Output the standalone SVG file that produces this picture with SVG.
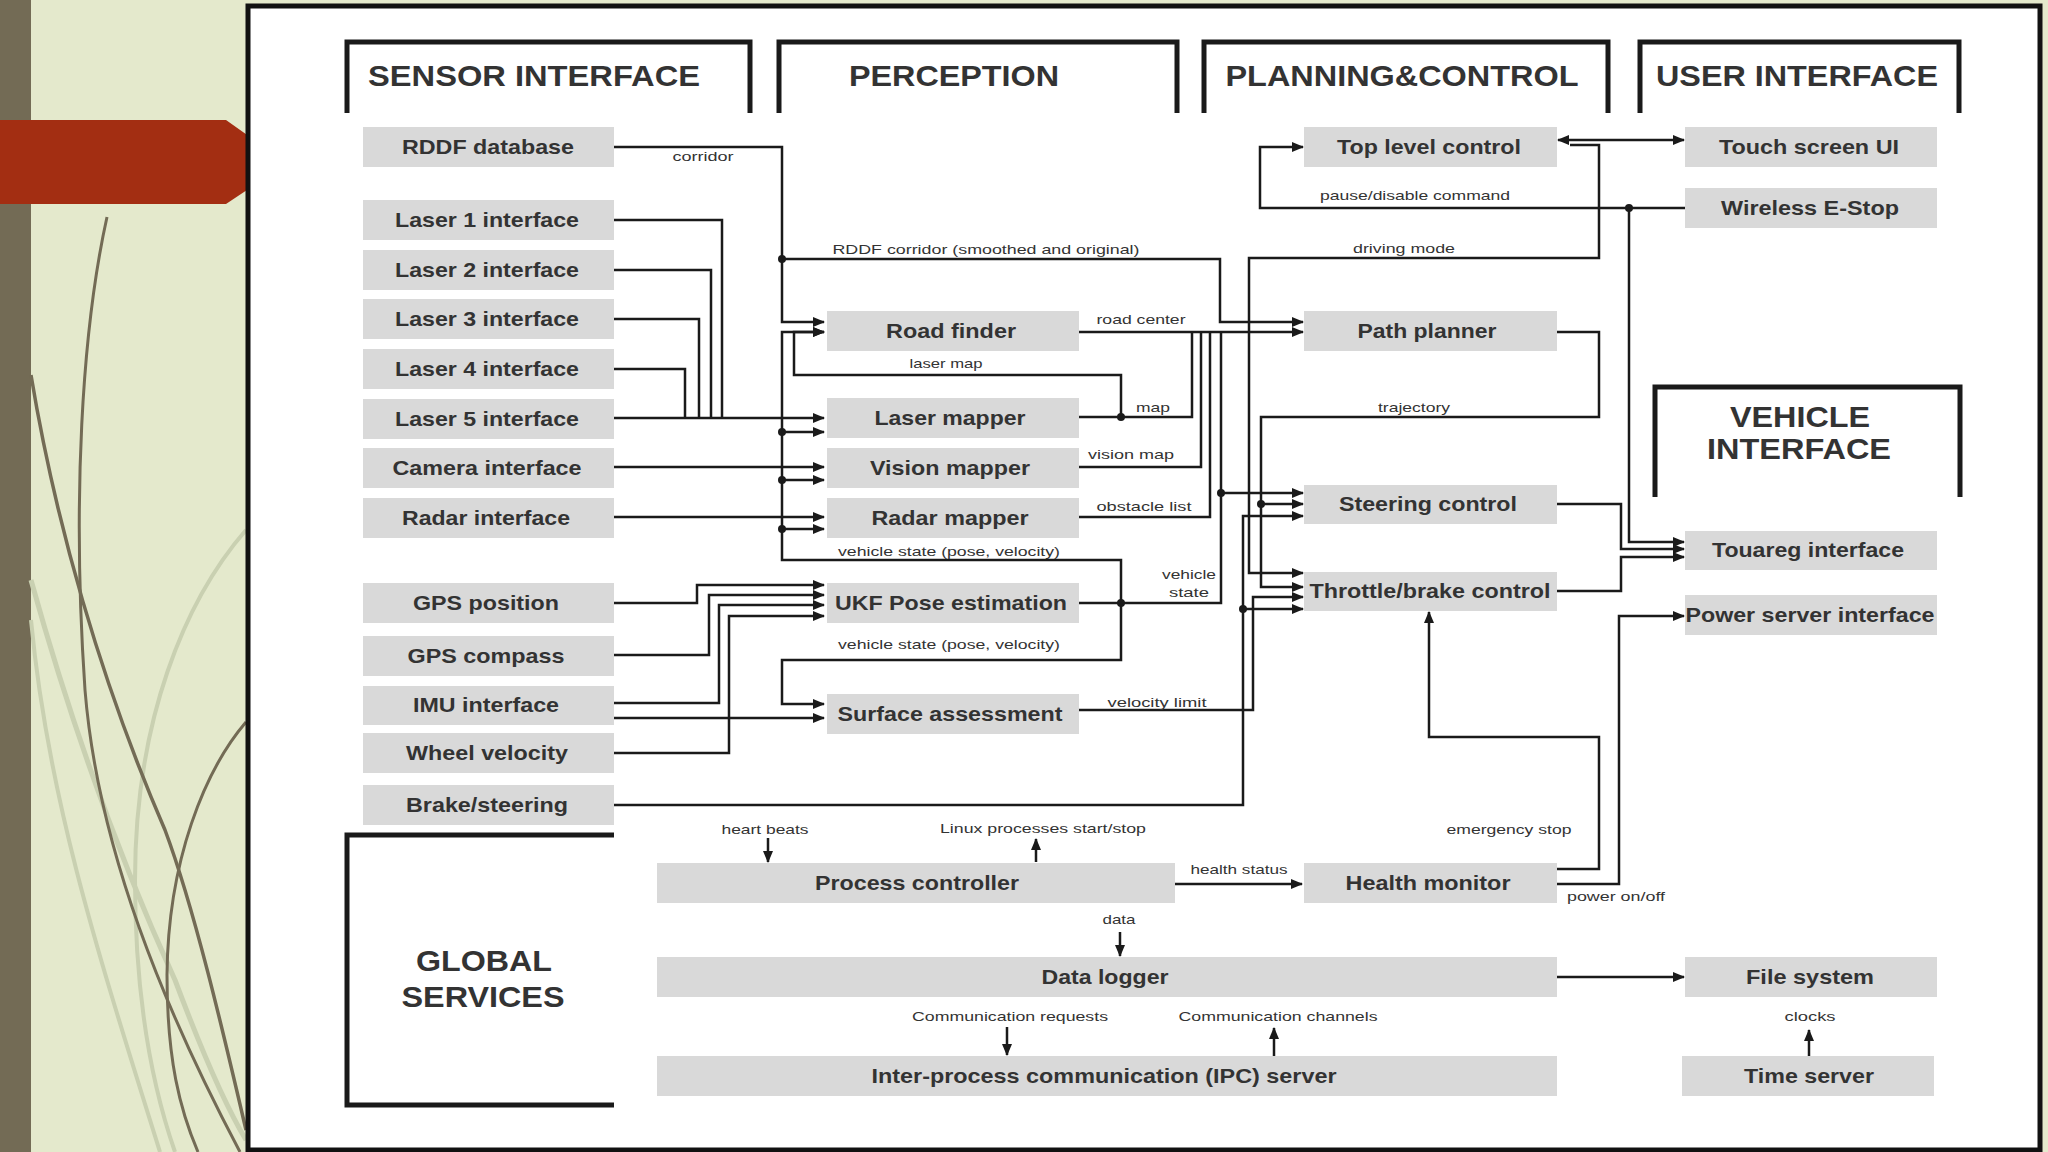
<svg xmlns="http://www.w3.org/2000/svg" width="2048" height="1152" viewBox="0 0 2048 1152">
<defs>
<marker id="arr" markerUnits="userSpaceOnUse" markerWidth="12" markerHeight="10" refX="11" refY="5" orient="auto">
<path d="M0,0 L12,5 L0,10 z" fill="#1a1a1a"/>
</marker>
<marker id="arrs" markerUnits="userSpaceOnUse" markerWidth="12" markerHeight="10" refX="1" refY="5" orient="auto">
<path d="M12,0 L0,5 L12,10 z" fill="#1a1a1a"/>
</marker>
<style>
.bg{fill:#e4e9cc}
.node rect{fill:#d9d9d9}
.nt{font-family:"Liberation Sans",Arial,sans-serif;font-weight:bold;font-size:21px;fill:#333;text-anchor:middle}
.hd{font-family:"Liberation Sans",Arial,sans-serif;font-weight:bold;font-size:30px;fill:#333;text-anchor:middle}
.lb{font-family:"Liberation Sans",Arial,sans-serif;font-size:13px;fill:#333;text-anchor:middle}
.br{fill:none;stroke:#1a1a1a;stroke-width:5}
.c path{fill:none;stroke:#1a1a1a;stroke-width:2.5}
.c .a{marker-end:url(#arr)}
.c circle{fill:#1a1a1a}
.deco{fill:none;stroke:#736b55}
.faint{fill:none;stroke:#c9d0b1}
</style>
</defs>
<rect class="bg" x="0" y="0" width="2048" height="1152"/>
<rect x="0" y="0" width="31" height="1152" fill="#736b55"/>
<g id="decoration">
<path class="faint" stroke-width="4" d="M246,530 C185,600 135,720 135,880 C135,990 150,1080 175,1152"/>
<path class="faint" stroke-width="5" d="M31,580 C70,720 120,860 175,980 C205,1060 228,1110 246,1140"/>
<path class="faint" stroke-width="4" d="M31,620 C48,800 100,960 160,1152"/>
<path class="deco" stroke-width="3" d="M107,217 C82,330 72,500 85,690 C98,850 165,1010 240,1152"/>
<path class="deco" stroke-width="3.5" d="M31,375 C55,520 100,680 165,830 C195,910 225,1040 246,1130"/>
<path class="deco" stroke-width="3" d="M246,722 C205,770 168,860 167,975 C167,1060 180,1110 198,1152"/>
</g>
<polygon points="0,120 226,120 250,137 250,188 226,204 0,204" fill="#a32e12"/>
<rect x="248" y="6" width="1792" height="1144" fill="#ffffff" stroke="#111" stroke-width="5"/>

<g id="sections">
<path class="br" d="M347,113 V42 H750 V113"/>
<path class="br" d="M779,113 V42 H1177 V113"/>
<path class="br" d="M1204,113 V42 H1608 V113"/>
<path class="br" d="M1640,113 V42 H1959 V113"/>
<path class="br" d="M1655,497 V387 H1960 V497"/>
<path class="br" d="M614,835 H347 V1105 H614"/>
<text class="hd" x="534" y="86" textLength="332" lengthAdjust="spacingAndGlyphs">SENSOR INTERFACE</text>
<text class="hd" x="954" y="86" textLength="210" lengthAdjust="spacingAndGlyphs">PERCEPTION</text>
<text class="hd" x="1402" y="86" textLength="353" lengthAdjust="spacingAndGlyphs">PLANNING&amp;CONTROL</text>
<text class="hd" x="1797" y="86" textLength="282" lengthAdjust="spacingAndGlyphs">USER INTERFACE</text>
<text class="hd" x="1800" y="427" textLength="140" lengthAdjust="spacingAndGlyphs">VEHICLE</text>
<text class="hd" x="1799" y="459" textLength="184" lengthAdjust="spacingAndGlyphs">INTERFACE</text>
<text class="hd" x="484" y="971" textLength="136" lengthAdjust="spacingAndGlyphs">GLOBAL</text>
<text class="hd" x="483" y="1007" textLength="163" lengthAdjust="spacingAndGlyphs">SERVICES</text>
</g>

<g id="connectors" class="c">
<path d="M614,147 H782 V322 H824" class="a"/>
<circle cx="782" cy="259" r="4"/>
<path d="M782,259 H1220 V322 H1303" class="a"/>
<path d="M614,220 H722 V418"/>
<path d="M614,270 H711 V418"/>
<path d="M614,319 H699 V418"/>
<path d="M614,369 H685 V418"/>
<path d="M614,418 H824" class="a" stroke-width="3.5"/>
<path d="M614,467 H824" class="a"/>
<path d="M614,517 H824" class="a"/>
<path d="M1121,603 V560 H782 V332 H824" class="a"/>
<circle cx="782" cy="432" r="4"/>
<circle cx="782" cy="480" r="4"/>
<circle cx="782" cy="529" r="4"/>
<path d="M782,432 H824" class="a"/>
<path d="M782,480 H824" class="a"/>
<path d="M782,529 H824" class="a"/>
<path d="M614,603 H697 V585 H824" class="a"/>
<path d="M614,655 H709 V595 H824" class="a"/>
<path d="M614,703 H719 V605 H824" class="a"/>
<path d="M614,753 H729 V616 H824" class="a"/>
<path d="M614,718 H824" class="a"/>
<path d="M1121,603 V660 H782 V704 H824" class="a"/>
<path d="M1079,417 H1192 V332"/>
<circle cx="1121" cy="417" r="4"/>
<path d="M1121,417 V375 H794 V332 H824" class="a"/>
<path d="M1079,467 H1201 V332"/>
<path d="M1079,517 H1210 V332"/>
<path d="M1079,332 H1303" class="a"/>
<path d="M1079,603 H1221 V332" stroke-width="3"/>
<circle cx="1121" cy="603" r="4"/>
<circle cx="1221" cy="493" r="4"/>
<path d="M1221,493 H1303" class="a"/>
<path d="M1557,332 H1599 V417 H1261 V587 H1303" class="a"/>
<circle cx="1261" cy="504" r="4"/>
<path d="M1261,504 H1303" class="a"/>
<path d="M1570,145 H1599 V258 H1249 V573 H1303" class="a"/>
<path d="M614,805 H1243 V516 H1303" class="a"/>
<circle cx="1243" cy="609" r="4"/>
<path d="M1243,609 H1303" class="a"/>
<path d="M1079,710 H1253 V597 H1303" class="a"/>
<path d="M1558,140 H1684" class="a" style="marker-start:url(#arrs)"/>
<path d="M1685,208 H1260 V147 H1303" class="a"/>
<circle cx="1629" cy="208" r="4"/>
<path d="M1629,208 V542 H1684" class="a"/>
<path d="M1557,504 H1621 V549 H1684" class="a"/>
<path d="M1557,591 H1621 V557 H1684" class="a"/>
<path d="M1175,884 H1302" class="a"/>
<path d="M1557,869 H1599 V737 H1429 V612" class="a"/>
<path d="M1557,884 H1619 V616 H1684" class="a"/>
<path d="M768,838 V862" class="a"/>
<path d="M1036,862 V839" class="a"/>
<path d="M1120,932 V956" class="a"/>
<path d="M1557,977 H1684" class="a"/>
<path d="M1007,1027 V1055" class="a"/>
<path d="M1274,1056 V1028" class="a"/>
<path d="M1809,1056 V1030" class="a"/>
</g>

<g id="labels">
<text class="lb" x="703" y="161" textLength="61" lengthAdjust="spacingAndGlyphs">corridor</text>
<text class="lb" x="986" y="254" textLength="307" lengthAdjust="spacingAndGlyphs">RDDF corridor (smoothed and original)</text>
<text class="lb" x="1415" y="200" textLength="190" lengthAdjust="spacingAndGlyphs">pause/disable command</text>
<text class="lb" x="1404" y="253" textLength="102" lengthAdjust="spacingAndGlyphs">driving mode</text>
<text class="lb" x="1141" y="324" textLength="89" lengthAdjust="spacingAndGlyphs">road center</text>
<text class="lb" x="946" y="368" textLength="73" lengthAdjust="spacingAndGlyphs">laser map</text>
<text class="lb" x="1153" y="412" textLength="34" lengthAdjust="spacingAndGlyphs">map</text>
<text class="lb" x="1414" y="412" textLength="72" lengthAdjust="spacingAndGlyphs">trajectory</text>
<text class="lb" x="1131" y="459" textLength="86" lengthAdjust="spacingAndGlyphs">vision map</text>
<text class="lb" x="1144" y="511" textLength="95" lengthAdjust="spacingAndGlyphs">obstacle list</text>
<text class="lb" x="949" y="556" textLength="222" lengthAdjust="spacingAndGlyphs">vehicle state (pose, velocity)</text>
<text class="lb" x="1189" y="579" textLength="54" lengthAdjust="spacingAndGlyphs">vehicle</text>
<text class="lb" x="1189" y="597" textLength="40" lengthAdjust="spacingAndGlyphs">state</text>
<text class="lb" x="949" y="649" textLength="222" lengthAdjust="spacingAndGlyphs">vehicle state (pose, velocity)</text>
<text class="lb" x="1157" y="707" textLength="99" lengthAdjust="spacingAndGlyphs">velocity limit</text>
<text class="lb" x="765" y="834" textLength="87" lengthAdjust="spacingAndGlyphs">heart beats</text>
<text class="lb" x="1043" y="833" textLength="206" lengthAdjust="spacingAndGlyphs">Linux processes start/stop</text>
<text class="lb" x="1509" y="834" textLength="125" lengthAdjust="spacingAndGlyphs">emergency stop</text>
<text class="lb" x="1239" y="874" textLength="97" lengthAdjust="spacingAndGlyphs">health status</text>
<text class="lb" x="1616" y="901" textLength="98" lengthAdjust="spacingAndGlyphs">power on/off</text>
<text class="lb" x="1119" y="924" textLength="33" lengthAdjust="spacingAndGlyphs">data</text>
<text class="lb" x="1010" y="1021" textLength="196" lengthAdjust="spacingAndGlyphs">Communication requests</text>
<text class="lb" x="1278" y="1021" textLength="199" lengthAdjust="spacingAndGlyphs">Communication channels</text>
<text class="lb" x="1810" y="1021" textLength="51" lengthAdjust="spacingAndGlyphs">clocks</text>
</g>

<g id="n-rddf" class="node"><rect x="363" y="127" width="251" height="40"/><text class="nt" x="488" y="154" textLength="172" lengthAdjust="spacingAndGlyphs">RDDF database</text></g>
<g id="n-laser1" class="node"><rect x="363" y="200" width="251" height="40"/><text class="nt" x="487" y="227" textLength="184" lengthAdjust="spacingAndGlyphs">Laser 1 interface</text></g>
<g id="n-laser2" class="node"><rect x="363" y="250" width="251" height="40"/><text class="nt" x="487" y="277" textLength="184" lengthAdjust="spacingAndGlyphs">Laser 2 interface</text></g>
<g id="n-laser3" class="node"><rect x="363" y="299" width="251" height="40"/><text class="nt" x="487" y="326" textLength="184" lengthAdjust="spacingAndGlyphs">Laser 3 interface</text></g>
<g id="n-laser4" class="node"><rect x="363" y="349" width="251" height="40"/><text class="nt" x="487" y="376" textLength="184" lengthAdjust="spacingAndGlyphs">Laser 4 interface</text></g>
<g id="n-laser5" class="node"><rect x="363" y="399" width="251" height="40"/><text class="nt" x="487" y="426" textLength="184" lengthAdjust="spacingAndGlyphs">Laser 5 interface</text></g>
<g id="n-camera" class="node"><rect x="363" y="448" width="251" height="40"/><text class="nt" x="487" y="475" textLength="189" lengthAdjust="spacingAndGlyphs">Camera interface</text></g>
<g id="n-radar" class="node"><rect x="363" y="498" width="251" height="40"/><text class="nt" x="486" y="525" textLength="168" lengthAdjust="spacingAndGlyphs">Radar interface</text></g>
<g id="n-gpspos" class="node"><rect x="363" y="583" width="251" height="40"/><text class="nt" x="486" y="610" textLength="146" lengthAdjust="spacingAndGlyphs">GPS position</text></g>
<g id="n-gpscomp" class="node"><rect x="363" y="636" width="251" height="40"/><text class="nt" x="486" y="663" textLength="157" lengthAdjust="spacingAndGlyphs">GPS compass</text></g>
<g id="n-imu" class="node"><rect x="363" y="686" width="251" height="39"/><text class="nt" x="486" y="712" textLength="146" lengthAdjust="spacingAndGlyphs">IMU interface</text></g>
<g id="n-wheel" class="node"><rect x="363" y="733" width="251" height="40"/><text class="nt" x="487" y="760" textLength="162" lengthAdjust="spacingAndGlyphs">Wheel velocity</text></g>
<g id="n-brake" class="node"><rect x="363" y="785" width="251" height="40"/><text class="nt" x="487" y="812" textLength="162" lengthAdjust="spacingAndGlyphs">Brake/steering</text></g>

<g id="n-roadfinder" class="node"><rect x="827" y="311" width="252" height="40"/><text class="nt" x="951" y="338" textLength="130" lengthAdjust="spacingAndGlyphs">Road finder</text></g>
<g id="n-lasermapper" class="node"><rect x="827" y="398" width="252" height="40"/><text class="nt" x="950" y="425" textLength="151" lengthAdjust="spacingAndGlyphs">Laser mapper</text></g>
<g id="n-visionmapper" class="node"><rect x="827" y="448" width="252" height="40"/><text class="nt" x="950" y="475" textLength="160" lengthAdjust="spacingAndGlyphs">Vision mapper</text></g>
<g id="n-radarmapper" class="node"><rect x="827" y="498" width="252" height="40"/><text class="nt" x="950" y="525" textLength="157" lengthAdjust="spacingAndGlyphs">Radar mapper</text></g>
<g id="n-ukf" class="node"><rect x="827" y="583" width="252" height="40"/><text class="nt" x="951" y="610" textLength="232" lengthAdjust="spacingAndGlyphs">UKF Pose estimation</text></g>
<g id="n-surface" class="node"><rect x="827" y="694" width="252" height="40"/><text class="nt" x="950" y="721" textLength="225" lengthAdjust="spacingAndGlyphs">Surface assessment</text></g>

<g id="n-toplevel" class="node"><rect x="1304" y="127" width="253" height="40"/><text class="nt" x="1429" y="154" textLength="184" lengthAdjust="spacingAndGlyphs">Top level control</text></g>
<g id="n-pathplanner" class="node"><rect x="1304" y="311" width="253" height="40"/><text class="nt" x="1427" y="338" textLength="139" lengthAdjust="spacingAndGlyphs">Path planner</text></g>
<g id="n-steering" class="node"><rect x="1304" y="485" width="253" height="39"/><text class="nt" x="1428" y="511" textLength="178" lengthAdjust="spacingAndGlyphs">Steering control</text></g>
<g id="n-throttle" class="node"><rect x="1304" y="572" width="253" height="39"/><text class="nt" x="1430" y="598" textLength="241" lengthAdjust="spacingAndGlyphs">Throttle/brake control</text></g>
<g id="n-health" class="node"><rect x="1304" y="863" width="253" height="40"/><text class="nt" x="1428" y="890" textLength="165" lengthAdjust="spacingAndGlyphs">Health monitor</text></g>

<g id="n-touch" class="node"><rect x="1685" y="127" width="252" height="40"/><text class="nt" x="1809" y="154" textLength="180" lengthAdjust="spacingAndGlyphs">Touch screen UI</text></g>
<g id="n-estop" class="node"><rect x="1685" y="188" width="252" height="40"/><text class="nt" x="1810" y="215" textLength="178" lengthAdjust="spacingAndGlyphs">Wireless E-Stop</text></g>
<g id="n-touareg" class="node"><rect x="1685" y="531" width="252" height="39"/><text class="nt" x="1808" y="557" textLength="192" lengthAdjust="spacingAndGlyphs">Touareg interface</text></g>
<g id="n-power" class="node"><rect x="1685" y="595" width="252" height="40"/><text class="nt" x="1810" y="622" textLength="249" lengthAdjust="spacingAndGlyphs">Power server interface</text></g>
<g id="n-filesystem" class="node"><rect x="1685" y="957" width="252" height="40"/><text class="nt" x="1810" y="984" textLength="128" lengthAdjust="spacingAndGlyphs">File system</text></g>
<g id="n-timeserver" class="node"><rect x="1682" y="1056" width="252" height="40"/><text class="nt" x="1809" y="1083" textLength="130" lengthAdjust="spacingAndGlyphs">Time server</text></g>

<g id="n-process" class="node"><rect x="657" y="863" width="518" height="40"/><text class="nt" x="917" y="890" textLength="204" lengthAdjust="spacingAndGlyphs">Process controller</text></g>
<g id="n-datalogger" class="node"><rect x="657" y="957" width="900" height="40"/><text class="nt" x="1105" y="984" textLength="127" lengthAdjust="spacingAndGlyphs">Data logger</text></g>
<g id="n-ipc" class="node"><rect x="657" y="1056" width="900" height="40"/><text class="nt" x="1104" y="1083" textLength="465" lengthAdjust="spacingAndGlyphs">Inter-process communication (IPC) server</text></g>
</svg>
